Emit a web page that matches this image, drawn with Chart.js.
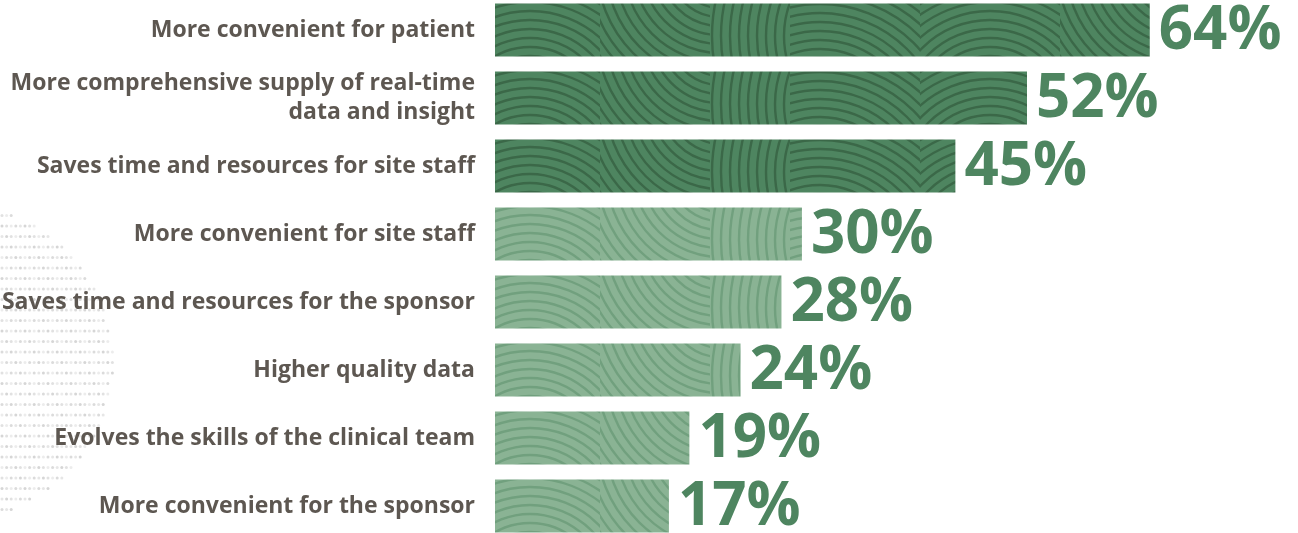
<!DOCTYPE html>
<html>
<head>
<meta charset="utf-8">
<script src="https://cdn.jsdelivr.net/npm/chart.js@4"></script>
<style>
  html, body { margin: 0; padding: 0; background: #fff; overflow: hidden; }
  #wrap { position: absolute; left: 0; top: -4px; width: 1298px; height: 544px; }
</style>
</head>
<body>
<div id="wrap"><canvas id="myChart"></canvas></div>
<script>
// data
const categorias = [
  "More convenient for patient",
  ["More comprehensive supply of real-time", "data and insight"],
  "Saves time and resources for site staff",
  "More convenient for site staff",
  "Saves time and resources for the sponsor",
  "Higher quality data",
  "Evolves the skills of the clinical team",
  "More convenient for the sponsor"
]
const valores = [64, 52, 45, 30, 28, 24, 19, 17]
const etiquetas = ["64%", "52%", "45%", "30%", "28%", "24%", "19%", "17%"]
const tonos = ["oscuro", "oscuro", "oscuro", "claro", "claro", "claro", "claro", "claro"]

const verde = "#4e8560"
const gris = "#5d5751"

// wood grain texture for the bars
function patron_madera(base, linea){
    const c = document.createElement("canvas")
    c.width = 460
    c.height = 68
    const ctx = c.getContext("2d")
    ctx.fillStyle = base
    ctx.fillRect(0, 0, c.width, c.height)
    const trozos = [
        {x0: 0, x1: 140, cx: 70, cy: 120},
        {x0: 140, x1: 250, cx: 260, cy: -30},
        {x0: 250, x1: 330, cx: 420, cy: 40},
        {x0: 330, x1: 460, cx: 360, cy: 140}
    ]
    ctx.strokeStyle = linea
    ctx.lineWidth = 2.4
    trozos.forEach(t => {
        ctx.save()
        ctx.beginPath()
        ctx.rect(t.x0, 0, t.x1 - t.x0, c.height)
        ctx.clip()
        for (let r = 6; r < 260; r += 9) {
            ctx.beginPath()
            ctx.arc(t.cx, t.cy, r, 0, Math.PI * 2)
            ctx.stroke()
        }
        ctx.restore()
    })
    return ctx.createPattern(c, "repeat")
}

const pat_oscuro = patron_madera("#4e8560", "#3b6848")
const pat_claro = patron_madera("#8ab394", "#71a07e")
const colores = tonos.map(t => t == "oscuro" ? pat_oscuro : pat_claro)

// faint dotted globe on the left
const puntos = {
    id: "puntos",
    beforeDraw(chart){
        const ctx = chart.ctx
        const cx = -45, cy = 366, r = 158
        ctx.save()
        let fila = 0
        for (let y = 209; y < 526; y += 10.5) {
            const dy = y - cy
            if (Math.abs(dy) >= r) { fila++; continue }
            const ancho = cx + Math.sqrt(r * r - dy * dy)
            let col = 0
            for (let x = 2; x < ancho; x += 4.6) {
                const a = 0.35 + ((fila * 7 + col * 3) % 5) * 0.1
                ctx.fillStyle = "rgba(200,200,200," + a + ")"
                ctx.beginPath()
                ctx.arc(x, y, 1.5, 0, Math.PI * 2)
                ctx.fill()
                col++
            }
            fila++
        }
        ctx.restore()
    }
}

// big percentage at the end of each bar
const porcentajes = {
    id: "porcentajes",
    afterDatasetsDraw(chart){
        const ctx = chart.ctx
        const meta = chart.getDatasetMeta(0)
        ctx.save()
        ctx.fillStyle = verde
        ctx.font = "700 60px 'Open Sans'"
        ctx.textAlign = "left"
        ctx.textBaseline = "middle"
        meta.data.forEach((bar, i) => {
            ctx.fillText(etiquetas[i], bar.x + 9, bar.y + 2)
        })
        ctx.restore()
    }
}

const config = {
    type: "bar",
    data: {
        labels: categorias,
        datasets: [{
            data: valores,
            backgroundColor: colores,
            borderWidth: 0,
            categoryPercentage: 53 / 68,
            barPercentage: 1
        }]
    },
    options: {
        indexAxis: "y",
        responsive: true,
        maintainAspectRatio: false,
        animation: false,
        layout: { padding: { left: 0, right: 5, top: 0, bottom: 0 } },
        plugins: {
            legend: { display: false },
            tooltip: { enabled: false }
        },
        scales: {
            x: { display: false, min: 0, max: 78 },
            y: {
                afterFit(scale){
                    scale.width = 495
                    scale.paddingTop = 0
                    scale.paddingBottom = 0
                },
                grid: { display: false, drawTicks: false },
                border: { display: false },
                ticks: {
                    color: gris,
                    padding: 20,
                    font: { family: "'Open Sans'", size: 23, weight: "700", lineHeight: 1.26 }
                }
            }
        }
    },
    plugins: [puntos, porcentajes]
}

window.grafica = new Chart(document.getElementById("myChart"), config)
</script>
</body>
</html>
